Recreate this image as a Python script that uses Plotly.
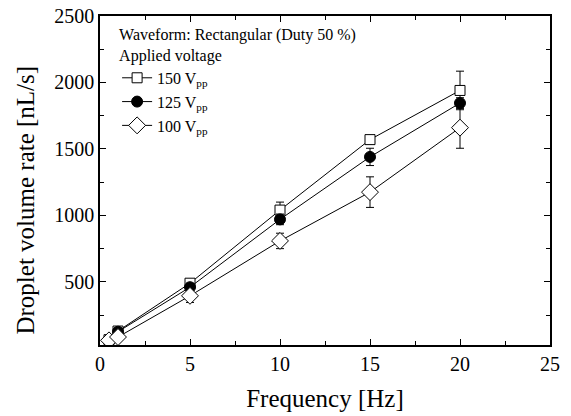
import plotly.graph_objects as go

freq = [0.5, 1, 5, 10, 15, 20]
v150 = [65, 130, 490, 1040, 1570, 1940]
v150_err = [15, 20, 25, 60, 30, 145]
v125 = [65, 125, 460, 970, 1440, 1845]
v125_err = [15, 25, 30, 40, 65, 40]
v100 = [60, 85, 395, 808, 1175, 1660]
v100_err = [15, 15, 50, 58, 115, 155]

names = ["150 V<sub>pp</sub>", "125 V<sub>pp</sub>", "100 V<sub>pp</sub>"]
series = [(v150, v150_err), (v125, v125_err), (v100, v100_err)]
symbols = ["square", "circle", "diamond"]
sizes = [10, 11, 13]
fills = ["white", "black", "white"]

fig = go.Figure()
for i, ((vals, errs), nm, sym, sz, fc) in enumerate(zip(series, names, symbols, sizes, fills)):
    fig.add_trace(go.Scatter(
        x=freq, y=vals, name=nm, mode="lines+markers", legendgroup=f"g{i}",
        line=dict(color="black", width=1),
        marker=dict(symbol=sym, size=sz, color=fc,
                    line=dict(color="black", width=1)),
        error_y=dict(type="data", array=errs, visible=True, color="black",
                     thickness=1, width=4),
    ))

axis_common = dict(
    showline=True, linecolor="black", linewidth=1.5, mirror="ticks",
    ticks="inside", ticklen=6, tickwidth=1, tickcolor="black",
    showgrid=False, zeroline=False, automargin=False,
    ticklabeloverflow="allow",
    tickfont=dict(family="Liberation Serif", size=20, color="black"),
)

fig.update_layout(
    width=571, height=416,
    margin=dict(l=100, r=21, t=16, b=71),
    plot_bgcolor="white", paper_bgcolor="white",
    font=dict(family="Liberation Serif", color="black"),
    xaxis=dict(range=[0, 25], dtick=5, tick0=0,
               minor=dict(ticks="inside", ticklen=4, dtick=2.5, tickcolor="black"),
               title=dict(text="Frequency [Hz]", font=dict(size=25), standoff=16),
               **axis_common),
    yaxis=dict(range=[25, 2500], dtick=500, tick0=0,
               minor=dict(ticks="inside", ticklen=4, dtick=250, tickcolor="black"),
               **axis_common),
    legend=dict(
        x=0.038, y=0.99, xanchor="left", yanchor="top",
        bgcolor="rgba(0,0,0,0)",
        font=dict(family="Liberation Serif", size=16, color="black"),
        title=dict(text="Waveform: Rectangular (Duty 50 %)<br>Applied voltage",
                   font=dict(family="Liberation Serif", size=16, color="black")),
        tracegroupgap=0, itemwidth=30,
    ),
    annotations=[dict(
        text="Droplet volume rate [nL/s]", textangle=-90,
        xref="paper", yref="paper", x=-0.166, y=0.44,
        xanchor="center", yanchor="middle", showarrow=False,
        font=dict(family="Liberation Serif", size=25, color="black"),
    )],
)

fig.write_html("out.html", config={"displayModeBar": False},
               post_script="document.body.style.margin='0';")
